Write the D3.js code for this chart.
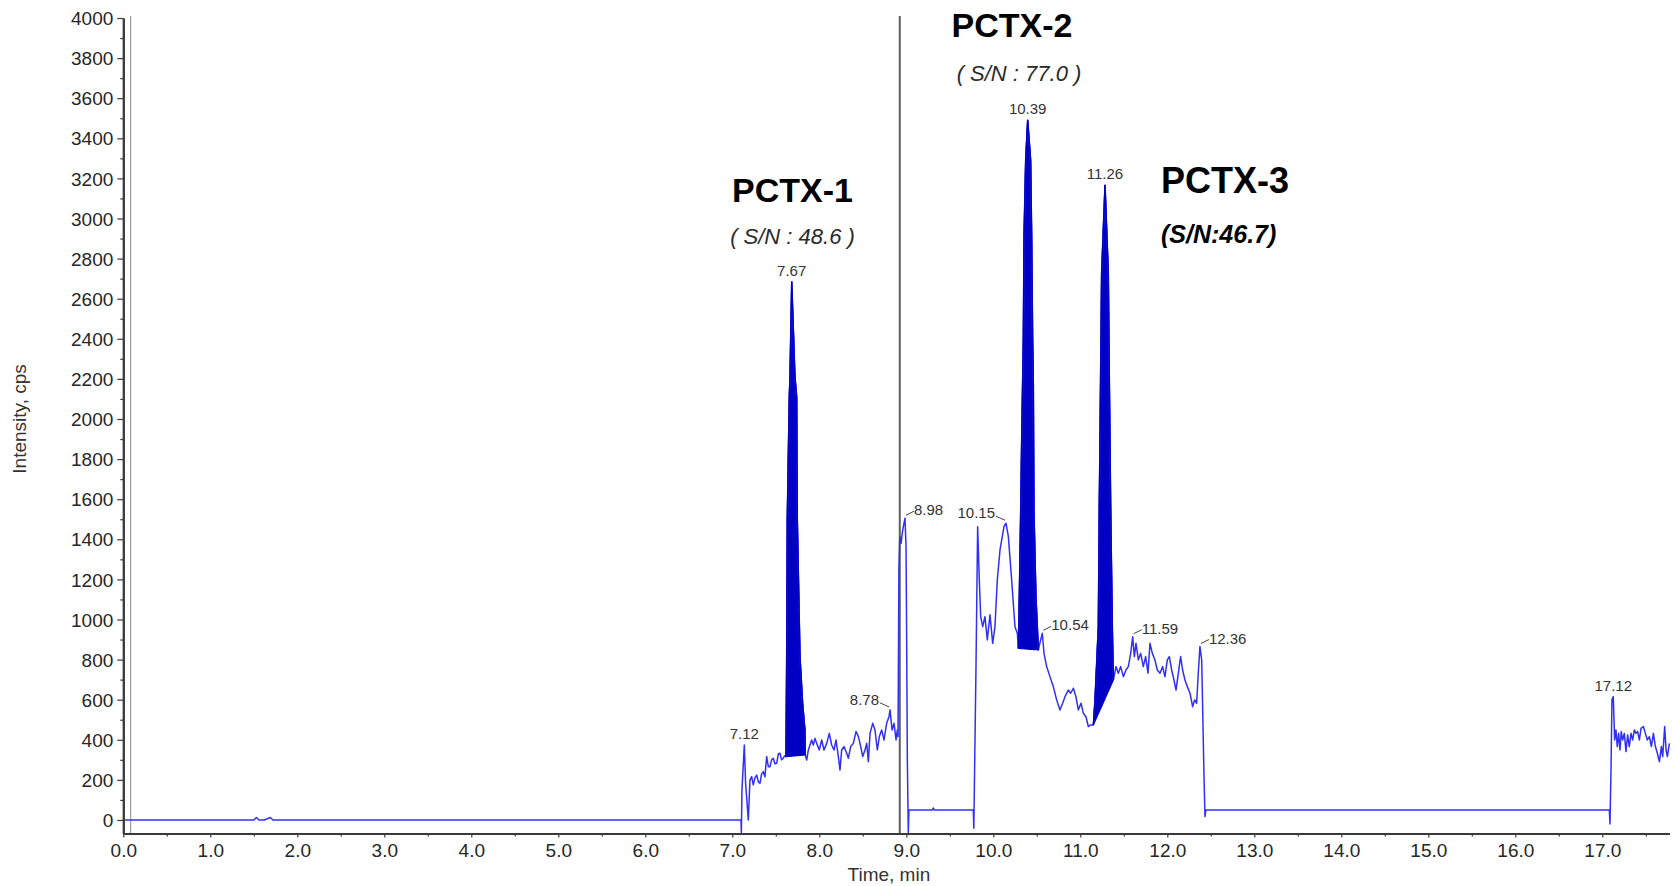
<!DOCTYPE html>
<html>
<head>
<meta charset="utf-8">
<script src="https://cdn.jsdelivr.net/npm/d3@7"></script>
<style>
  html, body { margin: 0; padding: 0; background: #fff; }
  svg { display: block; }
  text { font-family: "Liberation Sans", Arial, sans-serif; }
</style>
</head>
<body>
<svg id="chart" width="1676" height="886"></svg>
<script>
// ---------------- DATA ----------------
const timeMin = [
  0, 1.50, 1.53, 1.56, 1.62, 1.69, 1.72, 7.095,
  7.100, 7.104, 7.111, 7.138, 7.153, 7.184, 7.203, 7.222, 7.241, 7.26, 7.280, 7.30, 7.318, 7.337, 7.356, 7.375,
  7.395, 7.414, 7.433, 7.452, 7.471, 7.49, 7.510, 7.53, 7.548, 7.567, 7.586, 7.60, 7.617,
  7.625, 7.632, 7.655, 7.663, 7.683, 7.720, 7.740, 7.747, 7.778, 7.808, 7.835, 7.838,
  7.855, 7.874, 7.912, 7.931, 7.951, 7.970, 8.000, 8.027, 8.054, 8.085, 8.115, 8.142, 8.169, 8.192, 8.219,
  8.238, 8.257, 8.284, 8.315, 8.334, 8.361, 8.391, 8.422, 8.449, 8.476, 8.499, 8.525, 8.545, 8.564, 8.583,
  8.614, 8.640, 8.667, 8.690, 8.717, 8.744, 8.774, 8.801, 8.813, 8.836, 8.859, 8.882, 8.897, 8.905,
  8.915, 8.925, 8.94, 8.958, 8.985, 8.997, 9.004, 9.012, 9.023, 9.030, 9.30, 9.311, 9.32, 9.770, 9.776,
  9.801, 9.820, 9.839, 9.855, 9.878, 9.904, 9.931, 9.962, 9.993, 10.019, 10.046, 10.077, 10.123, 10.146,
  10.173, 10.211, 10.249, 10.276, 10.288,
  10.299, 10.315, 10.326, 10.345, 10.353, 10.372, 10.395, 10.429, 10.441, 10.452, 10.460, 10.467, 10.490, 10.518,
  10.544, 10.563, 10.583, 10.613, 10.651, 10.690, 10.728, 10.766, 10.797, 10.824, 10.862, 10.889, 10.920,
  10.950, 10.977, 11.008, 11.035, 11.065, 11.092, 11.119, 11.150,
  11.169, 11.207, 11.218, 11.226, 11.245, 11.284, 11.322, 11.334, 11.341, 11.349, 11.368, 11.380,
  11.410, 11.437, 11.464, 11.495, 11.525, 11.552, 11.579, 11.602, 11.621, 11.640, 11.667, 11.694, 11.724,
  11.751, 11.778, 11.801, 11.828, 11.858, 11.885, 11.916, 11.946, 11.973, 12.000, 12.023, 12.050, 12.077,
  12.100, 12.127, 12.153, 12.176, 12.203, 12.230, 12.261, 12.291, 12.314, 12.337, 12.356, 12.375, 12.395,
  12.406, 12.421, 12.433, 12.444, 17.081, 17.088, 17.100, 17.111, 17.126, 17.142, 17.157, 17.172, 17.188,
  17.203, 17.218, 17.234, 17.253, 17.272, 17.291, 17.310, 17.330, 17.349, 17.368, 17.387, 17.406, 17.426,
  17.445, 17.472, 17.495, 17.518, 17.541, 17.564, 17.587, 17.610, 17.633, 17.656, 17.679, 17.694, 17.717,
  17.733, 17.748, 17.771
];
const intensityCps = [
  0, 0, 12, 0, 0, 12, 0, 0,
  0, -66, 150, 374, 183, 0, 199, 216, 175, 210, 224, 190, 183, 230, 241, 215,
  316, 266, 266, 300, 308, 280, 283, 330, 333, 300, 308, 320, 316,
  815, 1504, 2111, 2211, 2685, 2211, 2111, 1504, 815, 582, 449, 324,
  299, 349, 399, 374, 407, 382, 349, 399, 349, 382, 432, 374, 349, 399, 316,
  249, 349, 366, 333, 308, 366, 382, 441, 416, 366, 316, 349, 382, 291, 432,
  482, 449, 349, 416, 449, 399, 482, 515, 549, 449, 482, 399, 449, 416,
  1250, 1413, 1380, 1446, 1505, 1363, 898, 300, -66, 50, 50, 60, 50, 50, -41,
  765, 1463, 1197, 1014, 964, 1014, 898, 1023, 881, 964, 1197, 1347, 1463, 1480,
  1413, 1197, 964, 931, 856,
  1114, 1546, 1895, 2394, 2910, 3292, 3491, 3292, 2910, 2394, 2178, 1546, 1114, 848,
  898, 931, 831, 765, 715, 665, 599, 549, 582, 615, 648, 632, 657,
  615, 549, 582, 532, 515, 466, 474, 474,
  600, 964, 1561, 1895, 2727, 3167, 2727, 2178, 1895, 1561, 964, 698,
  765, 732, 765, 715, 748, 765, 831, 914, 815, 881, 798, 831, 765,
  815, 732, 881, 831, 798, 748, 732, 765, 715, 798, 815, 748, 698,
  648, 732, 815, 748, 698, 665, 632, 565, 599, 582, 732, 865, 798,
  565, 233, 17, 50, 50, -20, 250, 600, 615, 399, 449, 366, 432,
  349, 441, 399, 432, 341, 424, 366, 432, 399, 449, 432, 441, 399,
  457, 466, 432, 399, 416, 366, 432, 366, 333, 291, 366, 316, 466,
  349, 316, 382
];
// integrated (filled) peaks: start / end retention times
const integratedStartMin = [7.617, 10.288, 11.150];
const integratedEndMin   = [7.838, 10.518, 11.380];
// retention-time labels
const peakLabelMin = [7.12, 7.67, 8.78, 8.98, 10.15, 10.39, 10.54, 11.26, 11.59, 12.36, 17.12];
// compound annotations
const compoundNames = ["PCTX-1", "PCTX-2", "PCTX-3"];
const compoundSN = ["( S/N : 48.6 )", "( S/N : 77.0 )", "(S/N:46.7)"];
// vertical marker lines (min)
const markerMin = [0.085, 8.925];
// axis ticks
const yTickValues = d3.range(0, 4001, 200);
const yMinorValues = d3.range(100, 4000, 200);
const xTickValues = d3.range(0, 18, 1);
const xMinorValues = d3.range(0.5, 17.8, 1);

// ---------------- CHART ----------------
const svg = d3.select("#chart");
const x = d3.scaleLinear().domain([0, 17.77]).range([123.3, 1669.3]);
const y = d3.scaleLinear().domain([-67, 4000]).range([833.4, 18]);

const axisColor = "#3a3a3a";
const textColor = "#262626";
const lineColor = "#3030f4";
const fillColor = "#0000c4";

// marker lines
svg.append("g").selectAll("line").data(markerMin).join("line")
  .attr("x1", d => x(d)).attr("x2", d => x(d))
  .attr("y1", y(4000) - 2).attr("y2", y(-67))
  .attr("stroke", (d, i) => i === 0 ? "#8a8a8a" : "#5e5e5e")
  .attr("stroke-width", (d, i) => i === 0 ? 1 : 2);

const pts = timeMin.map((t, i) => ({ t, v: intensityCps[i] }));

// filled integrated peaks
integratedStartMin.forEach((s, k) => {
  const e = integratedEndMin[k];
  const seg = pts.filter(p => p.t >= s - 1e-9 && p.t <= e + 1e-9);
  const v0 = seg[0].v, v1 = seg[seg.length - 1].v;
  const base = t => v0 + (v1 - v0) * (t - s) / (e - s);
  svg.append("path").datum(seg)
    .attr("d", d3.area().x(p => x(p.t)).y0(p => y(base(p.t))).y1(p => y(p.v)))
    .attr("fill", fillColor).attr("stroke", fillColor).attr("stroke-width", 1.2);
});

// trace
svg.append("path").datum(pts)
  .attr("d", d3.line().x(p => x(p.t)).y(p => y(p.v)))
  .attr("fill", "none").attr("stroke", lineColor).attr("stroke-width", 1.5)
  .attr("stroke-linejoin", "round");

// redraw filled peak outlines in dark
integratedStartMin.forEach((s, k) => {
  const e = integratedEndMin[k];
  const seg = pts.filter(p => p.t >= s - 1e-9 && p.t <= e + 1e-9);
  svg.append("path").datum(seg)
    .attr("d", d3.line().x(p => x(p.t)).y(p => y(p.v)))
    .attr("fill", "none").attr("stroke", fillColor).attr("stroke-width", 1.4);
});

// axes
const yAxis = svg.append("g").attr("transform", `translate(${x(0)},0)`)
  .call(d3.axisLeft(y).tickValues(yTickValues).tickFormat(d3.format("d")).tickSize(6).tickSizeOuter(0).tickPadding(4));
const yMinor = svg.append("g").attr("transform", `translate(${x(0)},0)`)
  .call(d3.axisLeft(y).tickValues(yMinorValues).tickSize(3).tickSizeOuter(0).tickFormat(""));
const xAxis = svg.append("g").attr("transform", `translate(0,${y(-67)})`)
  .call(d3.axisBottom(x).tickValues(xTickValues).tickFormat(d3.format(".1f")).tickSize(4).tickSizeOuter(0).tickPadding(6));
const xMinor = svg.append("g").attr("transform", `translate(0,${y(-67)})`)
  .call(d3.axisBottom(x).tickValues(xMinorValues).tickSize(3).tickSizeOuter(0).tickFormat(""));

[yAxis, yMinor, xAxis, xMinor].forEach(g => {
  g.select(".domain").attr("stroke", axisColor).attr("stroke-width", 2);
  g.selectAll(".tick line").attr("stroke", axisColor).attr("stroke-width", 1.2);
  g.selectAll(".tick text").attr("fill", textColor).attr("font-size", 19)
    .attr("font-family", "'Liberation Sans', Arial, sans-serif");
});
yAxis.selectAll(".tick text").attr("dy", "0.35em");

// axis titles
svg.append("text").attr("x", x(8.8)).attr("y", 881).attr("text-anchor", "middle")
  .attr("font-size", 19).attr("fill", "#333").text("Time, min");
svg.append("text").attr("transform", `translate(26,${y(2000)}) rotate(-90)`)
  .attr("text-anchor", "middle").attr("font-size", 19).attr("fill", "#333").text("Intensity, cps");

// peak retention-time labels
const placement = {
  "7.12": "top", "7.67": "top", "10.39": "top", "11.26": "top", "17.12": "top",
  "8.98": "right", "10.54": "right", "11.59": "right", "12.36": "right",
  "8.78": "left", "10.15": "left"
};
const lbl = svg.append("g").attr("font-size", 15).attr("fill", "#333");
peakLabelMin.forEach(lt => {
  const near = pts.filter(p => Math.abs(p.t - lt) <= 0.035);
  const apex = near.reduce((a, b) => (b.v > a.v ? b : a));
  const ax = x(apex.t), ay = y(apex.v);
  const txt = lt.toFixed(2);
  const mode = placement[txt];
  if (mode === "top") {
    lbl.append("text").attr("x", ax).attr("y", ay - 6).attr("text-anchor", "middle").text(txt);
  } else if (mode === "right") {
    lbl.append("line").attr("x1", ax + 1).attr("y1", ay - 3).attr("x2", ax + 9).attr("y2", ay - 7)
      .attr("stroke", "#444").attr("stroke-width", 1);
    lbl.append("text").attr("x", ax + 9).attr("y", ay - 3).attr("text-anchor", "start").text(txt);
  } else {
    lbl.append("line").attr("x1", ax - 1).attr("y1", ay - 3).attr("x2", ax - 10).attr("y2", ay - 7)
      .attr("stroke", "#444").attr("stroke-width", 1);
    lbl.append("text").attr("x", ax - 11).attr("y", ay - 5).attr("text-anchor", "end").text(txt);
  }
});

// compound annotations
const nameLayout = [
  { dx: 792.5, ny: 202, sy: 244, anchor: "middle", nsize: 34, ssize: 22, sweight: "normal", scolor: "#2a2a2a" },
  { dx: 1012,  ny: 37,  sy: 81,  anchor: "middle", nsize: 34, ssize: 22, sweight: "normal", scolor: "#2a2a2a" },
  { dx: 1161,  ny: 193, sy: 243, anchor: "start",  nsize: 36, ssize: 25, sweight: "bold",   scolor: "#000" }
];
compoundNames.forEach((n, i) => {
  const L = nameLayout[i];
  svg.append("text").attr("x", L.dx).attr("y", L.ny).attr("text-anchor", L.anchor)
    .attr("font-size", L.nsize).attr("font-weight", "bold").attr("fill", "#000").text(n);
  svg.append("text").attr("x", i === 1 ? L.dx + 7 : L.dx).attr("y", L.sy).attr("text-anchor", L.anchor)
    .attr("font-size", L.ssize).attr("font-style", "italic").attr("font-weight", L.sweight)
    .attr("fill", L.scolor).attr("xml:space", "preserve").style("white-space", "pre").text(compoundSN[i]);
});
</script>
</body>
</html>
